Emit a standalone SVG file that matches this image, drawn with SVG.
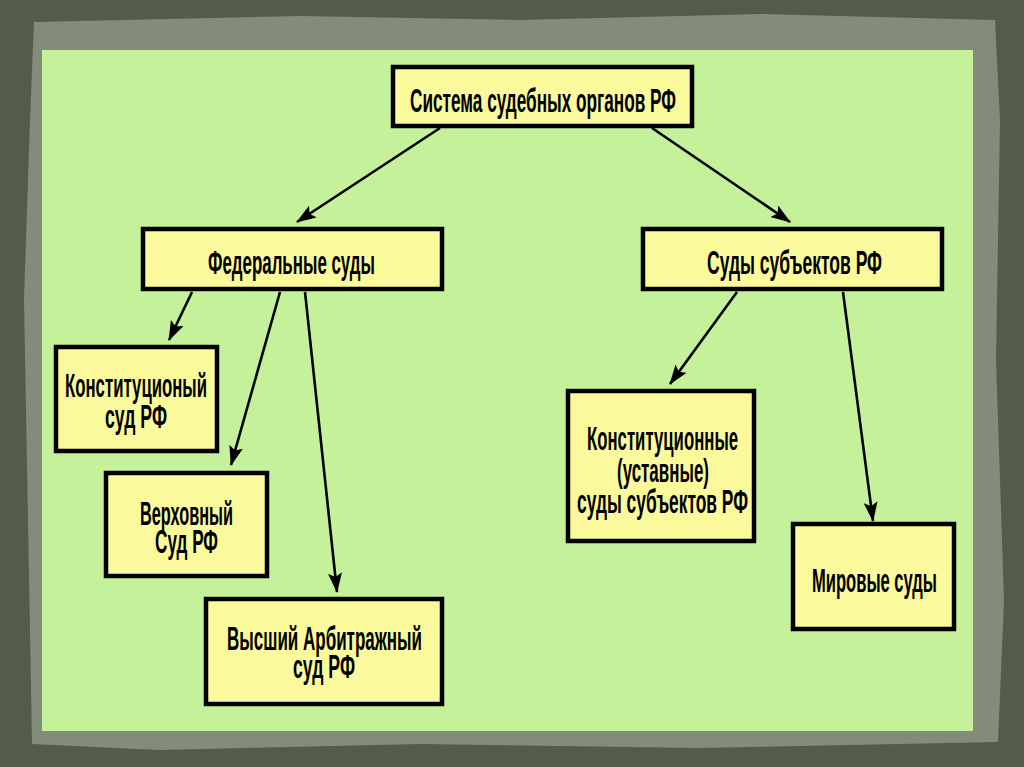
<svg xmlns="http://www.w3.org/2000/svg" width="1024" height="767" viewBox="0 0 1024 767">
<defs>
<style>
.box{fill:#fafa9c;stroke:#000;stroke-width:4.5}
.t{font-family:"Liberation Sans",Arial,sans-serif;font-size:34px;font-weight:bold;fill:#000;lengthAdjust:spacingAndGlyphs}
.c{stroke:#000;stroke-width:2.6;fill:none;marker-end:url(#ah)}
</style>
<marker id="ah" viewBox="0 0 20 14" refX="19" refY="7" markerWidth="20" markerHeight="14" markerUnits="userSpaceOnUse" orient="auto">
<path d="M0,0 L20,7 L0,14 L4,7 Z" fill="#000"/>
</marker>
</defs>
<rect x="0" y="0" width="1024" height="767" fill="#535c48"/>
<path d="M34,22 L300,16 L520,20 L760,14 L995,20 L1000,120 L996,360 L1004,600 L998,742 L700,748 L420,744 L160,750 L32,744 L28,520 L24,300 L30,120 Z" fill="#838c7a"/>
<rect x="42" y="50" width="931" height="681" fill="#c5f19b"/>
<g id="connectors">
<line class="c" x1="440" y1="128" x2="297" y2="222"/>
<line class="c" x1="652" y1="128" x2="790" y2="222"/>
<line class="c" x1="192" y1="292" x2="169" y2="340"/>
<line class="c" x1="280" y1="292" x2="231" y2="465"/>
<line class="c" x1="305" y1="292" x2="337" y2="592"/>
<line class="c" x1="737" y1="292" x2="670" y2="384"/>
<line class="c" x1="843" y1="292" x2="873" y2="521"/>
</g>
<g id="n-system">
<rect class="box" x="393" y="67" width="299" height="59"/>
<text class="t" x="410" y="112" textLength="266" lengthAdjust="spacingAndGlyphs">Система судебных органов РФ</text>
</g>
<g id="n-federal">
<rect class="box" x="143" y="229" width="299" height="60"/>
<text class="t" x="208" y="274" textLength="167" lengthAdjust="spacingAndGlyphs">Федеральные суды</text>
</g>
<g id="n-subjects">
<rect class="box" x="643" y="229" width="299" height="60"/>
<text class="t" x="707" y="274" textLength="175" lengthAdjust="spacingAndGlyphs">Суды субъектов РФ</text>
</g>
<g id="n-konst">
<rect class="box" x="56" y="347" width="161" height="104"/>
<text class="t" x="65" y="397" textLength="142" lengthAdjust="spacingAndGlyphs">Конституционый</text>
<text class="t" x="105" y="428" textLength="62" lengthAdjust="spacingAndGlyphs">суд РФ</text>
</g>
<g id="n-verh">
<rect class="box" x="106" y="473" width="161" height="103"/>
<text class="t" x="140" y="525" textLength="93" lengthAdjust="spacingAndGlyphs">Верховный</text>
<text class="t" x="155" y="553" textLength="63" lengthAdjust="spacingAndGlyphs">Суд РФ</text>
</g>
<g id="n-arb">
<rect class="box" x="206" y="599" width="236" height="105"/>
<text class="t" x="227" y="650" textLength="195" lengthAdjust="spacingAndGlyphs">Высший Арбитражный</text>
<text class="t" x="293" y="678" textLength="62" lengthAdjust="spacingAndGlyphs">суд РФ</text>
</g>
<g id="n-konst-subj">
<rect class="box" x="568" y="391" width="186" height="150"/>
<text class="t" x="587" y="450" textLength="151" lengthAdjust="spacingAndGlyphs">Конституционные</text>
<text class="t" x="617" y="482" textLength="92" lengthAdjust="spacingAndGlyphs">(уставные)</text>
<text class="t" x="577" y="513" textLength="171" lengthAdjust="spacingAndGlyphs">суды субъектов РФ</text>
</g>
<g id="n-mir">
<rect class="box" x="793" y="524" width="161" height="105"/>
<text class="t" x="812" y="592" textLength="125" lengthAdjust="spacingAndGlyphs">Мировые суды</text>
</g>
</svg>
